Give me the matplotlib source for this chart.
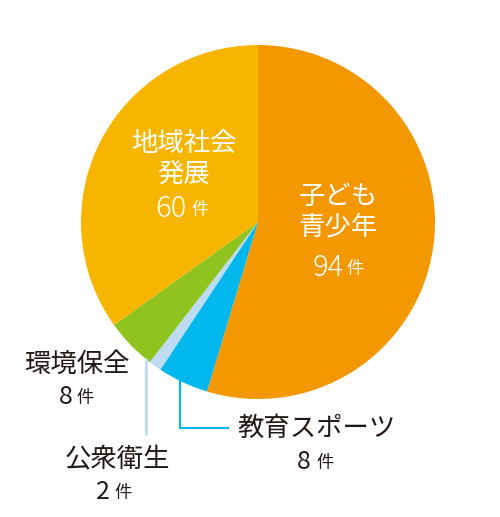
import matplotlib.pyplot as plt

plt.rcParams['font.family'] = ['Noto Sans CJK JP', 'DejaVu Sans']

# data, clockwise from the top
labels = ['子ども\n青少年', '教育スポーツ', '公衆衛生', '環境保全', '地域社会\n発展']
counts = [94, 8, 2, 8, 60]
colors = ['#F39800', '#00B7EE', '#BDDCF2', '#8FC31F', '#F8B500']

W, H = 500, 517
fig = plt.figure(figsize=(W / 100, H / 100), dpi=100)
ax = fig.add_axes([0, 0, 1, 1])


# pixel coords -> axes coords (y flipped)
def py(y):
    return H - y


cx, cy, r = 258, 222, 177
ax.pie(counts, colors=colors, startangle=90, counterclock=False,
       center=(cx, py(cy)), radius=r, frame=True,
       wedgeprops=dict(linewidth=0))
ax.set_xlim(0, W)
ax.set_ylim(0, H)
ax.set_aspect('equal')
ax.axis('off')

ink = '#231815'


# name, then number + small 件 underneath
def label(name, n, x, y_name, y_num, num_x, ken_x, color, num_size, weight):
    ax.text(x, py(y_name), name, ha='center', va='center', fontsize=19,
            color=color, linespacing=1.2)
    ax.text(num_x, py(y_num), str(n), ha='center', va='center',
            fontsize=num_size, color=color, fontweight=weight)
    ax.text(ken_x, py(y_num + 1), '件', ha='left', va='center',
            fontsize=12.5, color=color)


label(labels[4], counts[4], 184, 159, 209, 171, 191, 'white', 21, 'light')
label(labels[0], counts[0], 338, 212, 268, 328, 346, 'white', 21, 'light')
label(labels[3], counts[3], 77, 364, 397, 66, 76, ink, 18, 'normal')
label(labels[2], counts[2], 117, 460, 492, 103, 114, ink, 18, 'normal')
label(labels[1], counts[1], 317, 428, 462, 304, 316, ink, 18, 'normal')

# leader lines
ax.plot([146, 146], [py(358), py(435)], color='#BDDCF2', lw=2,
        solid_capstyle='butt')
ax.plot([180, 180, 228], [py(380), py(428), py(428)], color='#00B7EE', lw=1.5,
        solid_joinstyle='miter')

fig.savefig('out.png', dpi=100)
